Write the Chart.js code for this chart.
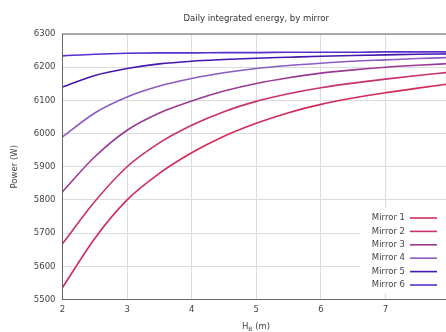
<!DOCTYPE html>
<html lang="en">
<head>
    <meta charset="UTF-8">
    <title>Daily integrated energy</title>
    <style>
        html, body { margin: 0; padding: 0; background: #fff; overflow: hidden; }
        #wrap { width: 446px; height: 332px; overflow: hidden; }
    </style>
</head>
<body>
<div id="wrap">
    <canvas id="grafico" width="460" height="332"></canvas>
</div>

<script src="https://cdn.jsdelivr.net/npm/chart.js"></script>
<script>
    // valores
    const hb = [2, 2.5, 3, 3.5, 4, 4.5, 5, 5.5, 6, 6.5, 7, 7.5, 8];
    const mirror1 = [5536, 5684, 5800, 5880, 5942, 5992, 6031, 6063, 6088, 6107, 6123, 6137, 6150];
    const mirror2 = [5668, 5795, 5900, 5972, 6025, 6066, 6097, 6120, 6138, 6152, 6164, 6175, 6185];
    const mirror3 = [5825, 5930, 6010, 6062, 6098, 6128, 6151, 6168, 6182, 6192, 6200, 6206, 6211];
    const mirror4 = [5990, 6062, 6110, 6143, 6166, 6183, 6196, 6205, 6212, 6218, 6222, 6226, 6229];
    const mirror5 = [6140, 6175, 6196, 6210, 6218, 6223, 6227, 6230, 6233, 6235, 6237, 6239, 6240];
    const mirror6 = [6234, 6239, 6242, 6243, 6243, 6244, 6244, 6245, 6245, 6245, 6246, 6246, 6246];
    const nomes = ['Mirror 1', 'Mirror 2', 'Mirror 3', 'Mirror 4', 'Mirror 5', 'Mirror 6'];
    const cores = ['#d22a58', '#c8306e', '#9a3a94', '#8a5cc0', '#4616b0', '#5630cc'];
    const yMin = 5500, yMax = 6300, yStep = 100;
    const xMin = 2, xMax = 8, xStep = 1;

    const series = [mirror1, mirror2, mirror3, mirror4, mirror5, mirror6];
    const fonte = 'DejaVu Sans';

    const datasets = series.map((vals, i) => ({
        label: nomes[i],
        data: hb.map((x, j) => ({ x: x, y: vals[j] })),
        borderColor: cores[i],
        backgroundColor: cores[i],
        borderWidth: 1.6,
        pointRadius: 0,
        cubicInterpolationMode: 'monotone',
        fill: false
    }));

    // titulo, eixo x com subscrito, legenda e borda (estilo gnuplot)
    const extras = {
        id: 'extras',
        afterDraw(chart) {
            const c = chart.ctx;
            const a = chart.chartArea;
            c.save();

            // legenda com fundo branco
            c.fillStyle = '#fff';
            c.fillRect(360, 208, 100, 85);
            c.font = '8.5px "' + fonte + '"';
            c.textBaseline = 'middle';
            c.textAlign = 'right';
            chart.data.datasets.forEach((ds, i) => {
                const y = 218 + i * 13.4;
                c.fillStyle = '#444';
                c.fillText(ds.label, 405, y);
                c.strokeStyle = ds.borderColor;
                c.lineWidth = 1.6;
                c.beginPath();
                c.moveTo(410, y);
                c.lineTo(437, y);
                c.stroke();
            });

            // borda
            c.strokeStyle = '#666';
            c.lineWidth = 1;
            c.strokeRect(a.left, a.top, a.right - a.left, a.bottom - a.top);

            // titulo
            c.fillStyle = '#333';
            c.textAlign = 'center';
            c.font = '8.5px "' + fonte + '"';
            c.fillText('Daily integrated energy, by mirror', (a.left + a.right) / 2, 19);

            // titulo eixo x: H_B (m)
            const cx = 256, cy = 327;
            c.textAlign = 'left';
            c.fillStyle = '#444';
            const w1 = c.measureText('H').width;
            c.font = '6px "' + fonte + '"';
            const w2 = c.measureText('B').width;
            c.font = '8.5px "' + fonte + '"';
            const w3 = c.measureText(' (m)').width;
            let x0 = cx - (w1 + w2 + w3) / 2;
            c.fillText('H', x0, cy);
            c.font = '6px "' + fonte + '"';
            c.fillText('B', x0 + w1, cy + 2.5);
            c.font = '8.5px "' + fonte + '"';
            c.fillText(' (m)', x0 + w1 + w2, cy);
            c.restore();
        }
    };

    const ctx = document.getElementById('grafico');
    new Chart(ctx, {
        type: 'line',
        data: { datasets: datasets },
        options: {
            responsive: false,
            animation: false,
            devicePixelRatio: 1,
            layout: { padding: { top: 34, right: 10, left: 0, bottom: 0 } },
            plugins: {
                legend: { display: false },
                title: { display: false },
                tooltip: { enabled: false }
            },
            scales: {
                x: {
                    type: 'linear',
                    min: xMin,
                    max: xMax,
                    ticks: {
                        stepSize: xStep,
                        padding: 5,
                        color: '#444',
                        font: { family: fonte, size: 8.5 },
                        callback: (v) => String(v)
                    },
                    grid: { color: '#dcdcdc', drawTicks: false },
                    border: { display: false },
                    afterFit(scale) { scale.height = 32.5; }
                },
                y: {
                    min: yMin,
                    max: yMax,
                    ticks: {
                        stepSize: yStep,
                        padding: 7,
                        color: '#444',
                        font: { family: fonte, size: 8.5 },
                        callback: (v) => String(v)
                    },
                    grid: { color: '#dcdcdc', drawTicks: false },
                    border: { display: false },
                    title: {
                        display: true,
                        text: 'Power (W)',
                        color: '#444',
                        font: { family: fonte, size: 8.5 },
                        padding: { top: 10, bottom: 0 }
                    },
                    afterFit(scale) { scale.width = 62.5; }
                }
            }
        },
        plugins: [extras]
    });
</script>
</body>
</html>
